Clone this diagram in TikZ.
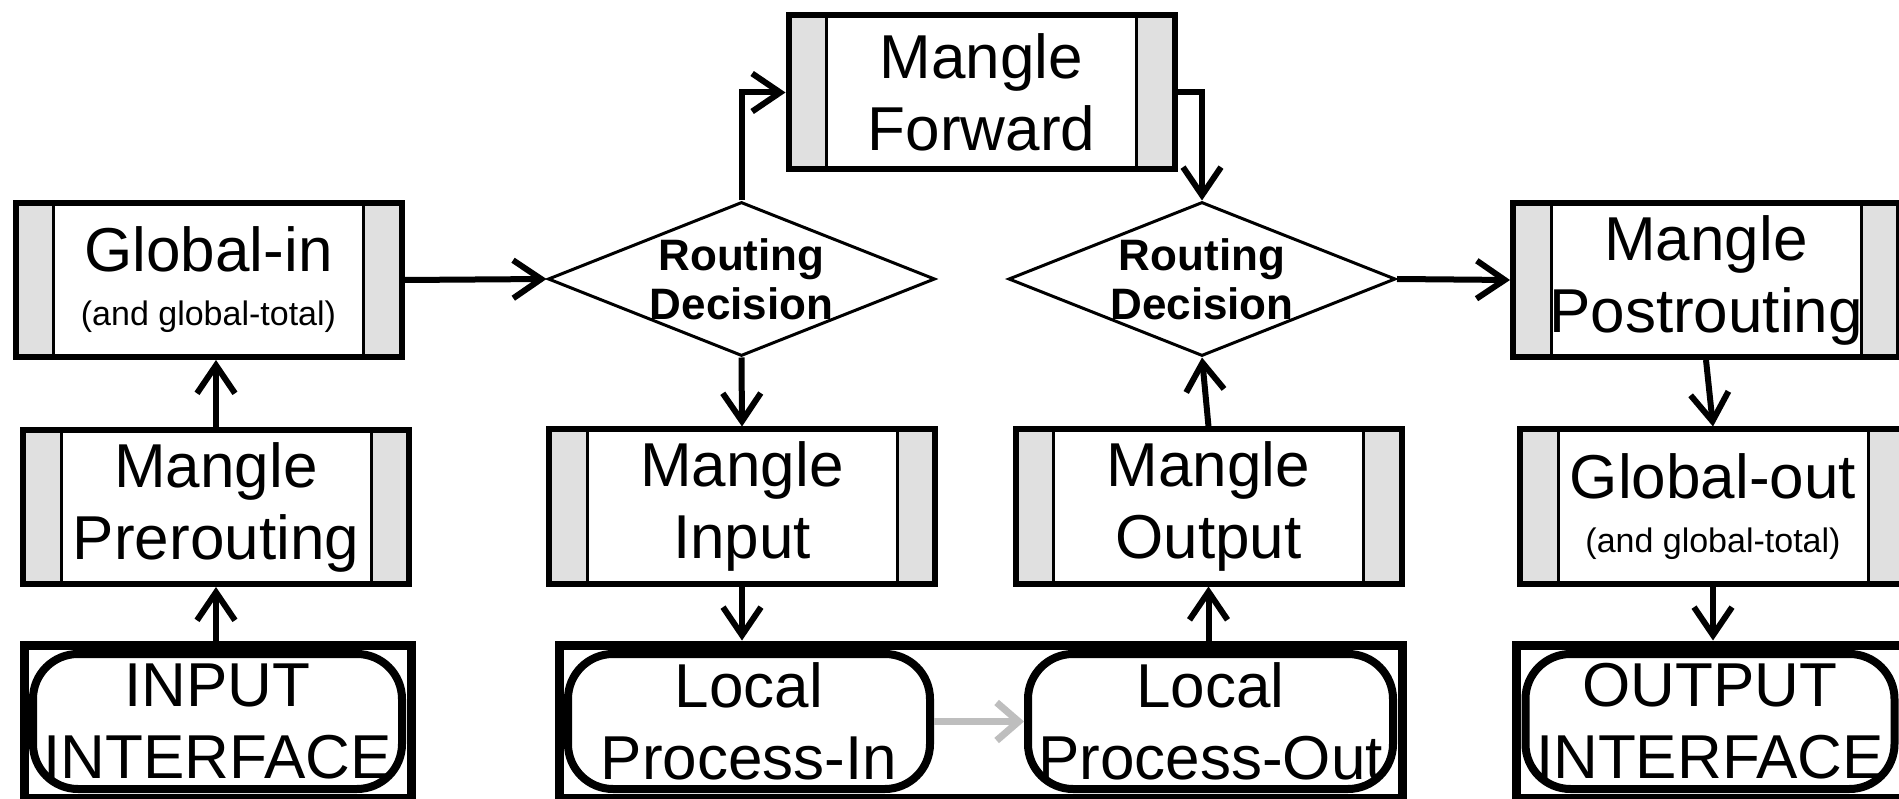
\documentclass[tikz,border=0pt]{standalone}
\usepackage{fontspec}
\setmainfont{Liberation Sans}
\usetikzlibrary{arrows.meta,shapes.geometric,calc}
\definecolor{stripgray}{RGB}{224,224,224}
\definecolor{flowgray}{RGB}{190,190,190}
\newcommand{\bigtxt}{\fontsize{62pt}{72pt}\selectfont}
\newcommand{\smalltxt}{\fontsize{34pt}{40pt}\selectfont}
\newcommand{\dectxt}{\fontsize{44pt}{49pt}\selectfont\bfseries}
\tikzset{
  stripbox/.style={draw=black, line width=6pt, fill=stripgray,
    minimum width=386pt, minimum height=154pt, inner sep=0pt,
    align=center, font=\bigtxt,
    path picture={\draw[line width=3pt, fill=white]
      ([xshift=38pt]path picture bounding box.north west) rectangle
      ([xshift=-38pt]path picture bounding box.south east);}},
  framebox/.style={draw=black, line width=9pt, fill=white,
    minimum height=153pt, inner sep=0pt},
  iface/.style={draw=black, line width=8pt, fill=white, rounded corners=45pt,
    minimum height=135pt, inner sep=0pt, align=center, font=\bigtxt},
  decision/.style={diamond, draw=black, line width=3pt, fill=white,
    minimum width=387pt, minimum height=154pt, inner sep=0pt},
  dectext/.style={align=center, font=\dectxt, inner sep=0pt},
  flow/.style={line width=6pt, draw=black, -{Straight Barb[length=28pt,width=38pt]}},
  grayflow/.style={line width=7pt, draw=flowgray, -{Straight Barb[length=22pt,width=38pt]}},
}
\begin{document}
\begin{tikzpicture}[x=1pt,y=-1pt]
\useasboundingbox[fill=white] (0,0) rectangle (1899,799);
\clip (0,0) rectangle (1899,799);

% left column
\node[stripbox] (gi) at (208.5,280) {Global-in\\[-18pt]{\smalltxt (and global-total)}};
\node[stripbox] (mp) at (216,507) {Mangle\\Prerouting};
\node[framebox, minimum width=387pt] (ii) at (218,721.5) {};
\node[iface, minimum width=369pt] (iir) at (217.5,721.5) {INPUT\\INTERFACE};

% middle
\node[decision] (d1) at (741.5,279) {};
\node[dectext] (d1t) at (d1) {Routing\\Decision};
\node[stripbox] (mf) at (981.5,92.5) {Mangle\\Forward};
\node[decision] (d2) at (1202,279) {};
\node[dectext] (d2t) at (d2) {Routing\\Decision};
\node[stripbox] (mi) at (742,506.5) {Mangle\\Input};
\node[stripbox] (mo) at (1208.5,506.5) {Mangle\\Output};
\node[framebox, minimum width=843pt] (lp) at (980.5,721.5) {};
\node[iface, minimum width=362pt] (lpi) at (749,721.5) {Local\\Process-In};
\node[iface, minimum width=365pt] (lpo) at (1210.5,721.5) {Local\\Process-Out};

% right column
\node[stripbox] (mpo) at (1706,280) {Mangle\\Postrouting};
\node[stripbox] (go) at (1713,506.5) {Global-out\\[-18pt]{\smalltxt (and global-total)}};
\node[framebox, minimum width=387pt] (oi) at (1710,721.5) {};
\node[iface, minimum width=369pt] (oir) at (1710,721.5) {OUTPUT\\INTERFACE};

% connectors
\draw[flow] (mp.south |- ii.north) -- (mp.south);
\draw[flow] (mp.north) -- (mp.north |- gi.south);
\draw[flow] (gi.east) -- (d1.west);
\draw[flow] (d1.north) |- (mf.west);
\draw[flow] (mf.east) -| (d2.north);
\draw[flow] (d1.south) -- (mi.north);
\draw[flow] (mi.south) -- (mi.south |- lp.north);
\draw[flow] (mo.south |- lp.north) -- (mo.south);
\draw[flow] (mo.north) -- (d2.south);
\draw[flow] (d2.east) -- (mpo.west);
\draw[flow] (mpo.south) -- (go.north);
\draw[flow] (go.south) -- (go.south |- oi.north);
\draw[grayflow] (lpi.east) -- (lpo.west);
\end{tikzpicture}
\end{document}
